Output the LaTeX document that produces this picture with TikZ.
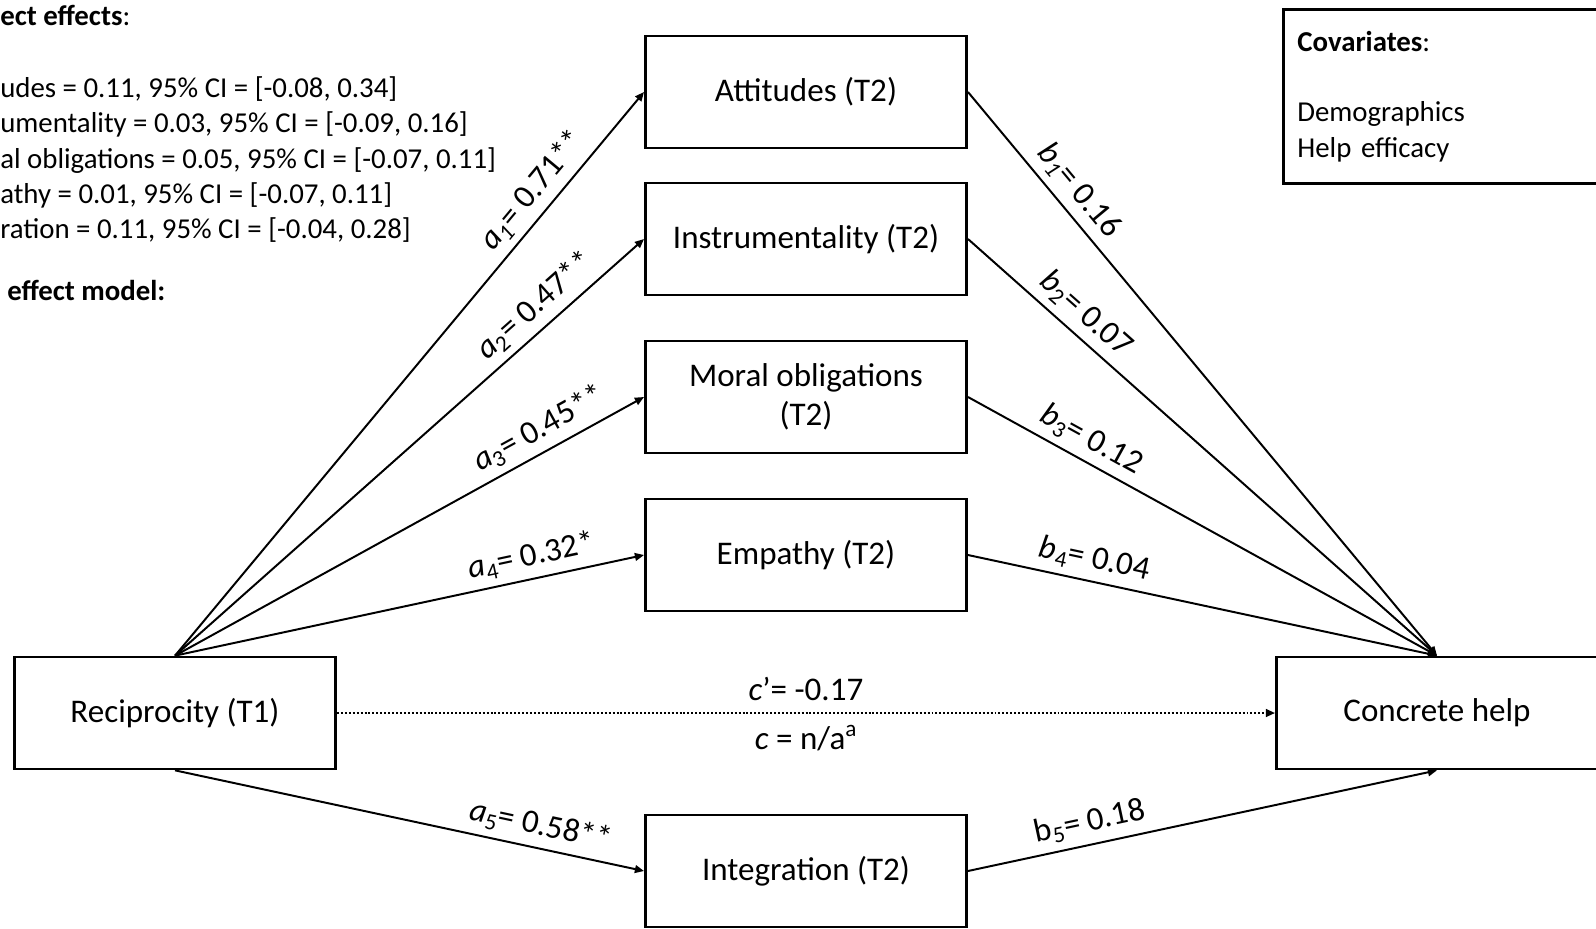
\documentclass[tikz,border=0pt]{standalone}
\usepackage{fontspec}
\setmainfont{Carlito}
\usetikzlibrary{arrows.meta}

\begin{document}
\begin{tikzpicture}[
  x=0.025cm, y=-0.025cm,
  varbox/.style={rectangle, draw, line width=1.9pt, minimum width=8.03cm,
                 minimum height=2.8cm, align=center,
                 font=\fontsize{23.5}{27.5}\selectfont},
  effect/.style={line width=1.4pt, -{Triangle[length=6.5pt, width=5.5pt]}},
  direct/.style={line width=1.4pt, dash pattern=on 1.4pt off 1.4pt,
                 -{Triangle[length=6.5pt, width=5.5pt]}},
  coef/.style={sloped, above, inner sep=5pt, font=\fontsize{23.5}{27}\selectfont},
  note/.style={anchor=base west, inner sep=0pt, font=\fontsize{20.5}{25}\selectfont},
]
\useasboundingbox (0,0) rectangle (1596,928);

\node[note] (indhead) at (0,25) {\textbf{ect effects}:};
\node[note] (indatt) at (0,97) {udes = 0.11, 95\% CI = [-0.08, 0.34]};
\node[note] (indins) at (0,132) {umentality = 0.03, 95\% CI = [-0.09, 0.16]};
\node[note] (indmor) at (0,168) {al obligations = 0.05, 95\% CI = [-0.07, 0.11]};
\node[note] (indemp) at (0,203) {athy = 0.01, 95\% CI = [-0.07, 0.11]};
\node[note] (indint) at (0,238) {ration = 0.11, 95\% CI = [-0.04, 0.28]};
\node[note] (modelhead) at (7,300) {\textbf{effect model:}};

\node[draw, line width=1.9pt, anchor=north west, minimum width=8.6cm,
      minimum height=4.35cm, text width=7.9cm, inner xsep=0.35cm, align=left,
      font=\fontsize{20.5}{25.6}\selectfont] (cov) at (1282,8)
  {\textbf{Covariates}:\\[24pt]Demographics\\Help efficacy};

\node[varbox] (recip) at (175,713) {Reciprocity (T1)};
\node[varbox] (att) at (806,92) {Attitudes (T2)};
\node[varbox] (instr) at (806,239) {Instrumentality (T2)};
\node[varbox] (moral) at (806,397) {Moral obligations\\(T2)};
\node[varbox] (emp) at (806,555) {Empathy (T2)};
\node[varbox] (integ) at (806,871) {Integration (T2)};
\node[varbox] (help) at (1437,713) {Concrete help};

\draw[effect] (recip.north) -- node[coef, pos=0.8]
  {\textit{a}\textsubscript{\textit{1}}= 0.71**} (att.west);
\draw[effect] (recip.north) -- node[coef, pos=0.8]
  {\textit{a}\textsubscript{2}= 0.47**} (instr.west);
\draw[effect] (recip.north) -- node[coef, pos=0.8]
  {\textit{a}\textsubscript{3}= 0.45**} (moral.west);
\draw[effect] (recip.north) -- node[coef, pos=0.77]
  {\textit{a}\textsubscript{4}= 0.32*} (emp.west);
\draw[effect] (recip.south) -- node[coef, pos=0.77]
  {\textit{a}\textsubscript{5}= 0.58**} (integ.west);

\draw[effect] (att.east) -- node[coef, pos=0.2]
  {\textit{b}\textsubscript{\textit{1}}= 0.16} (help.north);
\draw[effect] (instr.east) -- node[coef, pos=0.22]
  {\textit{b}\textsubscript{2}= 0.07} (help.north);
\draw[effect] (moral.east) -- node[coef, pos=0.24]
  {\textit{b}\textsubscript{3}= 0.12} (help.north);
\draw[effect] (emp.east) -- node[coef, pos=0.26]
  {\textit{b}\textsubscript{4}= 0.04} (help.north);
\draw[effect] (integ.east) -- node[coef, pos=0.27]
  {b\textsubscript{5}= 0.18} (help.south);

\draw[direct] (recip.east) --
  node[above, inner sep=8pt, font=\fontsize{23.5}{27}\selectfont] {\textit{c}'= -0.17}
  node[below, inner sep=8pt, font=\fontsize{23.5}{27}\selectfont] {\textit{c} = n/a\textsuperscript{a}}
  (help.west);

\end{tikzpicture}
\end{document}
